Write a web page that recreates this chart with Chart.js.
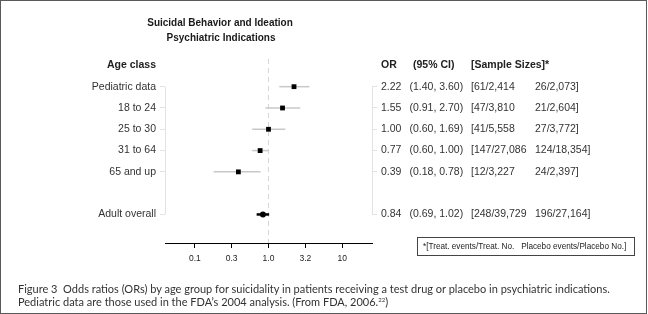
<!DOCTYPE html>
<html>
<head>
<meta charset="utf-8">
<script src="https://cdn.jsdelivr.net/npm/chart.js@4.4.0/dist/chart.umd.min.js"></script>
<style>
  html, body { margin: 0; padding: 0; background: #fff; }
  #wrap { position: relative; width: 648px; height: 314px; overflow: hidden; }
  #frame { position: absolute; left: 0; top: 0; width: 647px; height: 314px; box-sizing: border-box; border: 1px solid #5a5a5a; pointer-events: none; }
  #note { position: absolute; left: 417px; top: 237px; width: 218px; height: 19px; box-sizing: border-box;
          border: 1px solid #444; font: 8.2px "Liberation Sans", Arial, sans-serif; color: #222;
          line-height: 17px; padding-left: 5px; white-space: pre; }
  #caption { position: absolute; left: 18px; top: 283px; width: 625px; font: 11px Lato, "Open Sans", sans-serif;
             color: #333; line-height: 12.5px; white-space: nowrap; }
  #caption sup { font-size: 6px; vertical-align: 4px; line-height: 0; }
</style>
</head>
<body>
<div id="wrap">
  <canvas id="grafico" width="648" height="314"></canvas>
  <div id="note">*[Treat. events/Treat. No.   Placebo events/Placebo No.]</div>
  <div id="caption">Figure 3&nbsp; Odds ratios (ORs) by age group for suicidality in patients receiving a test drug or placebo in psychiatric indications.<br>Pediatric data are those used in the FDA’s 2004 analysis. (From FDA, 2006.<sup>22</sup>)</div>
  <div id="frame"></div>
</div>
<script>
// datos del grafico
const categorias = ["Pediatric data", "18 to 24", "25 to 30", "31 to 64", "65 and up", "", "Adult overall"]
const oddsRatio = [2.22, 1.55, 1.00, 0.77, 0.39, null, 0.84]
const icInferior = [1.40, 0.91, 0.60, 0.60, 0.18, null, 0.69]
const icSuperior = [3.60, 2.70, 1.69, 1.00, 0.78, null, 1.02]
const tratados = ["61/2,414", "47/3,810", "41/5,558", "147/27,086", "12/3,227", null, "248/39,729"]
const placebo = ["26/2,073", "21/2,604", "27/3,772", "124/18,354", "24/2,397", null, "196/27,164"]
const xTicks = [0.1, 0.316, 1, 3.16, 10]
const xTickLabels = ["0.1", "0.3", "1.0", "3.2", "10"]
const titulo = ["Suicidal Behavior and Ideation", "Psychiatric Indications"]

const Y_MIN = -1.3
const Y_MAX = 7.34
const ultimo = categorias.length - 1
const filas = categorias.map((c, i) => i).filter(i => categorias[i] !== "")

const fuente = '"Liberation Sans", Arial, Helvetica, sans-serif'

// lineas de intervalo de confianza
const lineasIC = []
for (let i = 0; i < categorias.length; i++) {
  if (oddsRatio[i] == null) continue
  lineasIC.push({
    type: "line",
    data: [{ x: icInferior[i], y: i }, { x: icSuperior[i], y: i }],
    borderColor: i === ultimo ? "#000" : "#c8c8c8",
    borderWidth: i === ultimo ? 2.5 : 1.5,
    pointRadius: 0,
  })
}

const puntos = filas.filter(i => i !== ultimo).map(i => ({ x: oddsRatio[i], y: i }))

const textos = {
  id: "textos",
  afterDraw(chart) {
    const ctx = chart.ctx
    const y = chart.scales.y
    const area = chart.chartArea
    ctx.save()
    // ejes verticales cortos
    ctx.strokeStyle = "#e3e3e3"
    ctx.lineWidth = 1
    ctx.beginPath()
    ctx.moveTo(area.left + 0.5, y.getPixelForValue(filas[0]))
    ctx.lineTo(area.left + 0.5, y.getPixelForValue(ultimo))
    ctx.moveTo(area.right + 0.5, y.getPixelForValue(filas[0]))
    ctx.lineTo(area.right + 0.5, y.getPixelForValue(ultimo))
    ctx.stroke()

    ctx.fillStyle = "#1a1a1a"
    ctx.textBaseline = "middle"
    ctx.textAlign = "center"
    ctx.font = 'bold 10px "Liberation Sans Narrow", "Arial Narrow", ' + fuente
    ctx.fillText(titulo[0], 220, 23)
    ctx.fillText(titulo[1], 221, 38)

    const yHead = y.getPixelForValue(-1)
    ctx.fillStyle = "#222"
    ctx.font = "bold 10.5px " + fuente
    ctx.textAlign = "right"
    ctx.fillText("Age class", area.left - 9, yHead)
    ctx.textAlign = "left"
    ctx.fillText("OR", area.right + 9, yHead)
    ctx.fillText("(95% CI)", area.right + 41, yHead)
    ctx.fillText("[Sample Sizes]*", area.right + 99, yHead)

    ctx.font = "10.5px " + fuente
    ctx.fillStyle = "#333"
    for (const i of filas) {
      const py = y.getPixelForValue(i)
      ctx.fillText("(" + icInferior[i].toFixed(2) + ", " + icSuperior[i].toFixed(2) + ")", area.right + 37.5, py)
      const t = "[" + tratados[i]
      ctx.fillText(t, area.right + 99, py)
      const w = ctx.measureText(t).width
      ctx.fillText(placebo[i] + "]", Math.max(area.right + 163, area.right + 99 + w + 5), py)
    }
    ctx.restore()
  }
}

const config = {
  type: "scatter",
  data: {
    datasets: [
      {
        data: puntos,
        pointStyle: "rect",
        pointRadius: 3.4,
        backgroundColor: "#000",
        borderColor: "#000",
        borderWidth: 0,
      },
      {
        data: [{ x: oddsRatio[ultimo], y: ultimo }],
        pointStyle: "circle",
        pointRadius: 3,
        backgroundColor: "#000",
        borderColor: "#000",
        borderWidth: 0,
      },
      ...lineasIC,
      {
        type: "line",
        data: [{ x: 1, y: Y_MIN }, { x: 1, y: Y_MAX }],
        borderColor: "#d6d6d6",
        borderWidth: 1,
        borderDash: [5, 4],
        pointRadius: 0,
      },
    ],
  },
  options: {
    responsive: false,
    animation: false,
    layout: { padding: { top: 59, left: 0, right: 0, bottom: 0 } },
    plugins: { legend: { display: false }, tooltip: { enabled: false } },
    scales: {
      x: {
        type: "logarithmic",
        position: "bottom",
        min: Math.pow(10, -1.405),
        max: Math.pow(10, 1.405),
        afterBuildTicks: s => { s.ticks = xTicks.map(v => ({ value: v })) },
        afterFit: s => { s.height = 71 },
        ticks: {
          autoSkip: false, maxRotation: 0, padding: 5.5, color: "#222",
          font: { family: fuente, size: 8.5 },
          callback: (v, i) => xTickLabels[i],
        },
        grid: { drawOnChartArea: false, tickLength: 5, color: "#000" },
        border: { color: "#000", width: 1 },
      },
      y: {
        type: "linear",
        position: "left",
        reverse: true,
        min: Y_MIN,
        max: Y_MAX,
        afterBuildTicks: s => { s.ticks = filas.map(i => ({ value: i })) },
        afterFit: s => { s.width = 165 },
        ticks: {
          autoSkip: false, padding: 4, color: "#333",
          font: { family: fuente, size: 10.5 },
          callback: v => categorias[v],
        },
        grid: { drawOnChartArea: false, tickLength: 5, color: "#e3e3e3" },
        border: { display: false },
      },
      yR: {
        type: "linear",
        position: "right",
        reverse: true,
        min: Y_MIN,
        max: Y_MAX,
        afterBuildTicks: s => { s.ticks = filas.map(i => ({ value: i })) },
        afterFit: s => { s.width = 276 },
        ticks: {
          autoSkip: false, padding: 4, color: "#333",
          font: { family: fuente, size: 10.5 },
          callback: v => oddsRatio[v].toFixed(2),
        },
        grid: { drawOnChartArea: false, tickLength: 5, color: "#e3e3e3" },
        border: { display: false },
      },
    },
  },
  plugins: [textos],
}

const grafico = new Chart(document.getElementById("grafico"), config)
</script>
</body>
</html>
